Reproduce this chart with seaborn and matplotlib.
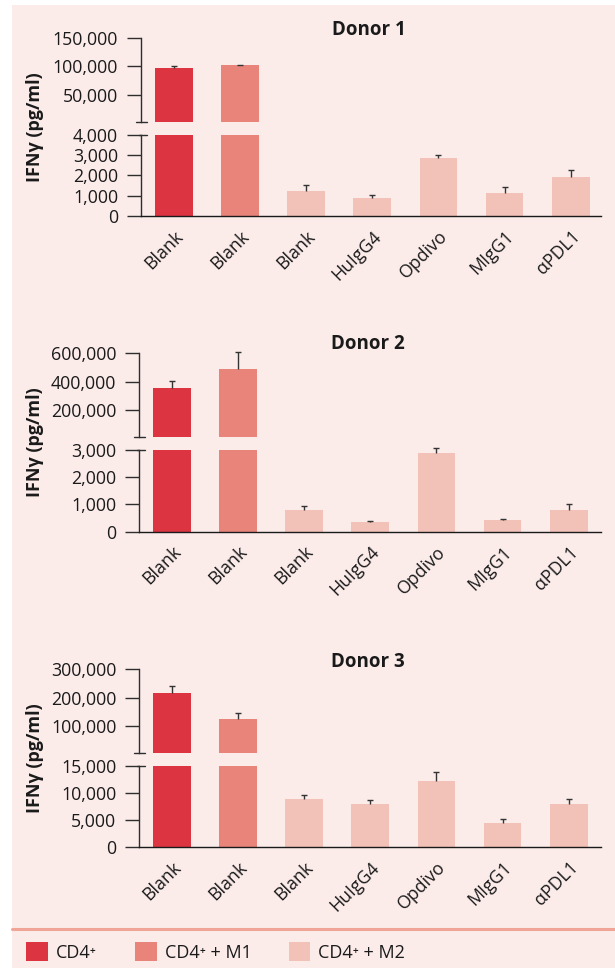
import numpy as np
import pandas as pd
import matplotlib
matplotlib.use("Agg")
import matplotlib.pyplot as plt
import seaborn as sns
from matplotlib.patches import Rectangle, Patch
from matplotlib.lines import Line2D

# ---------------- data ----------------
conditions = ["Blank", "Blank", "Blank", "HuIgG4", "Opdivo", "MIgG1", "αPDL1"]
bar_groups = ["CD4⁺", "CD4⁺ + M1", "CD4⁺ + M2", "CD4⁺ + M2", "CD4⁺ + M2", "CD4⁺ + M2", "CD4⁺ + M2"]
legend_groups = ["CD4⁺", "CD4⁺ + M1", "CD4⁺ + M2"]
donors = ["Donor 1", "Donor 2", "Donor 3"]

donor1_values = [97000, 102200, 1230, 885, 2850, 1130, 1920]
donor1_errors = [4000, 1200, 280, 150, 135, 280, 360]
donor2_values = [356000, 488700, 800, 356, 2890, 430, 800]
donor2_errors = [51000, 120000, 147, 48, 184, 48, 220]
donor3_values = [215000, 125500, 8910, 7990, 12230, 4480, 7990]
donor3_errors = [27000, 20000, 680, 680, 1610, 740, 870]

donor1_upper_ticks = [50000, 100000, 150000]
donor1_lower_ticks = [0, 1000, 2000, 3000, 4000]
donor2_upper_ticks = [200000, 400000, 600000]
donor2_lower_ticks = [0, 1000, 2000, 3000]
donor3_upper_ticks = [100000, 200000, 300000]
donor3_lower_ticks = [0, 5000, 10000, 15000]

ylabel = "IFNγ (pg/ml)"

# ---------------- style ----------------
palette = {"CD4⁺": "#dc3441", "CD4⁺ + M1": "#e8847a", "CD4⁺ + M2": "#f2c1b7"}
bg_color = "#fbecea"
text_color = "#1a1a1a"
axis_color = "#2e2e2e"

sns.set_style("ticks")
plt.rcParams["font.family"] = ["Open Sans", "DejaVu Sans"]
plt.rcParams["text.color"] = text_color
plt.rcParams["xtick.color"] = axis_color
plt.rcParams["ytick.color"] = axis_color
plt.rcParams["xtick.labelcolor"] = text_color
plt.rcParams["ytick.labelcolor"] = text_color

W, H = 615, 968
fig = plt.figure(figsize=(W / 100, H / 100), dpi=100)
fig.patch.set_facecolor("white")
fig.add_artist(Rectangle((12 / W, 0), 1 - 12 / W, 1 - 5.3 / H, transform=fig.transFigure,
                         facecolor=bg_color, edgecolor="none", zorder=-10))


def frect(left, top, right, bottom):
    return [left / W, 1 - bottom / H, (right - left) / W, (bottom - top) / H]


# layout in pixels: left, upper_top, upper_bottom, lower_top, lower_bottom, title_y, xlim, upper_ymin
layouts = [
    dict(left=141.0, ut=37.7, ub=121.7, lt=134.7, lb=216.0, ty=30.0, xlim=(-0.496, 6.458), umin=4000),
    dict(left=139.3, ut=353.0, ub=437.0, lt=450.0, lb=531.7, ty=344.0, xlim=(-0.491, 6.489), umin=12500),
    dict(left=139.3, ut=669.0, ub=753.3, lt=766.0, lb=847.3, ty=662.0, xlim=(-0.491, 6.489), umin=6000),
]
RIGHT = 601.0

all_values = [donor1_values, donor2_values, donor3_values]
all_errors = [donor1_errors, donor2_errors, donor3_errors]
all_upper = [donor1_upper_ticks, donor2_upper_ticks, donor3_upper_ticks]
all_lower = [donor1_lower_ticks, donor2_lower_ticks, donor3_lower_ticks]

tick_fs = 12.8
tick_len = 10
lw = 1.0


def draw_errors(ax, idx, vals, errs):
    if len(idx) == 0:
        return
    eb = ax.errorbar(idx, vals, yerr=[np.zeros(len(vals)), errs], fmt="none",
                     ecolor="#333333", elinewidth=1.0, capsize=2.3, capthick=1.0, zorder=3)
    for cl in eb[1]:
        yd = np.asarray(cl.get_ydata(), dtype=float)
        if np.allclose(yd, np.asarray(vals, dtype=float)):
            cl.set_visible(False)
        cl.set_clip_on(False)
    for lc in eb[2]:
        lc.set_clip_on(False)


for d in range(3):
    L = layouts[d]
    vals = np.array(all_values[d], dtype=float)
    errs = np.array(all_errors[d], dtype=float)
    lower_max = all_lower[d][-1]
    hi = vals > lower_max
    df = pd.DataFrame({"pos": list(range(len(conditions))), "value": vals, "group": bar_groups})

    ax_u = fig.add_axes(frect(L["left"], L["ut"], RIGHT, L["ub"]))
    ax_l = fig.add_axes(frect(L["left"], L["lt"], RIGHT, L["lb"]))

    for ax, sub in ((ax_u, df[hi]), (ax_l, df)):
        ax.set_facecolor("none")
        sns.barplot(data=sub, x="pos", y="value", hue="group", palette=palette, dodge=False,
                    width=0.57, errorbar=None, ax=ax, legend=False, saturation=1,
                    order=list(range(len(conditions))), hue_order=legend_groups, linewidth=0)
        ax.set_xlim(*L["xlim"])
        ax.set_xlabel("")
        ax.set_ylabel("")
        for s in ("top", "right"):
            ax.spines[s].set_visible(False)
        ax.spines["left"].set_color(axis_color)
        ax.spines["left"].set_linewidth(lw)
        ax.tick_params(axis="y", length=tick_len, width=lw, pad=6.5, labelsize=tick_fs)

    # upper
    ax_u.set_ylim(L["umin"], all_upper[d][-1])
    ax_u.set_yticks(all_upper[d])
    ax_u.set_yticklabels([f"{v:,}" for v in all_upper[d]])
    ax_u.spines["bottom"].set_visible(False)
    ax_u.tick_params(axis="x", length=0, labelbottom=False)
    draw_errors(ax_u, np.arange(len(vals))[hi], vals[hi], errs[hi])

    # lower
    ax_l.set_ylim(0, lower_max)
    ax_l.set_yticks(all_lower[d])
    ax_l.set_yticklabels([f"{v:,}" for v in all_lower[d]])
    ax_l.spines["bottom"].set_color("#1a1a1a")
    ax_l.spines["bottom"].set_linewidth(lw)
    ax_l.set_xticks(range(len(conditions)))
    ax_l.set_xticklabels(conditions, rotation=45, ha="right", va="top", rotation_mode="anchor")
    ax_l.tick_params(axis="x", length=0, pad=8, labelsize=tick_fs)
    draw_errors(ax_l, np.arange(len(vals))[~hi], vals[~hi], errs[~hi])

    # break marks
    x0 = L["left"]
    fig.add_artist(Line2D([(x0 - 5) / W, (x0 + 6) / W], [1 - L["ub"] / H] * 2,
                          transform=fig.transFigure, color=axis_color, lw=lw))
    fig.add_artist(Line2D([(x0 - 2) / W, (x0 + 6) / W], [1 - L["lt"] / H] * 2,
                          transform=fig.transFigure, color=axis_color, lw=lw))

    # title and y label
    fig.text((L["left"] + RIGHT) / 2 / W - 0.003, 1 - L["ty"] / H, donors[d], ha="center",
             va="center", fontsize=13.5, fontweight="bold")
    fig.text(35 / W, 1 - (L["ut"] + L["lb"]) / 2 / H, ylabel, rotation=90, ha="center",
             va="center", fontsize=13, fontweight="bold")

# separator line
fig.add_artist(Line2D([12 / W, 1], [1 - 928.7 / H] * 2, transform=fig.transFigure,
                      color="#f0a597", lw=2.2))

# legend entries
leg_x = [26, 135, 288.7]
for g, x in zip(legend_groups, leg_x):
    fig.legend(handles=[Patch(facecolor=palette[g], edgecolor="none", label=g)],
               loc="center left", bbox_to_anchor=(x / W, 1 - 952 / H), frameon=False,
               fontsize=13, handlelength=1.2, handleheight=1.2, handletextpad=0.45,
               borderpad=0, borderaxespad=0)

fig.savefig("out.png", dpi=100, facecolor="white")
